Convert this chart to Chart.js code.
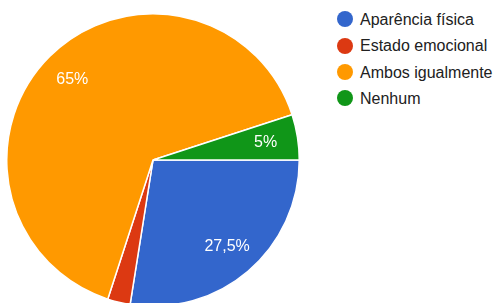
<!DOCTYPE html>
<html>
<head>
<meta charset="utf-8">
<script src="https://cdn.jsdelivr.net/npm/chart.js@4/dist/chart.umd.min.js"></script>
<style>
  html, body { margin:0; padding:0; background:#fff; overflow:hidden; }
  body { width:494px; height:303px; position:relative; font-family:"Liberation Sans", Arial, sans-serif; }
  #wrap { position:absolute; left:6px; top:13px; width:294px; height:294px; }
  #legend { position:absolute; left:337px; top:7px; }
  #legend div { height:26.4px; line-height:26.4px; font-size:16px; color:#212121; white-space:nowrap; }
  #legend span { display:inline-block; width:16px; height:16px; border-radius:50%; vertical-align:middle; margin:-3px 7px 0 0; }
</style>
</head>
<body>
<div id="wrap"><canvas id="chart" width="294" height="294"></canvas></div>
<div id="legend"></div>
<script>
// dados
const labels = ['Aparência física', 'Estado emocional', 'Ambos igualmente', 'Nenhum']
const values = [27.5, 2.5, 65, 5]
const colors = ['#3366cc', '#dc3912', '#ff9900', '#109618']

// legenda em html
const legend = document.querySelector('#legend')
for(let i=0 ; i<labels.length ; i++){
  const row = document.createElement('div')
  row.innerHTML = `<span style="background:${colors[i]}"></span>${labels[i]}`
  legend.appendChild(row)
}

// rótulos de porcentagem dentro das fatias
const sliceLabels = {
  id:'sliceLabels',
  afterDatasetsDraw(chart){
    const ctx = chart.ctx
    const meta = chart.getDatasetMeta(0)
    const total = values.reduce((a,b)=>a+b,0)
    ctx.save()
    ctx.font = '16px "Liberation Sans", Arial, sans-serif'
    ctx.fillStyle = '#fff'
    ctx.textAlign = 'center'
    ctx.textBaseline = 'middle'
    meta.data.forEach((arc,i)=>{
      const pct = values[i] / total * 100
      if(pct < 4) return
      const mid = (arc.startAngle + arc.endAngle) / 2
      const r = arc.outerRadius * 0.78
      const x = arc.x + Math.cos(mid) * r
      const y = arc.y + Math.sin(mid) * r
      const txt = String(parseFloat(pct.toFixed(1))).replace('.', ',') + '%'
      ctx.fillText(txt, x, y)
    })
    ctx.restore()
  }
}

new Chart(document.getElementById('chart'), {
  type:'pie',
  data:{
    labels:labels,
    datasets:[{
      data:values,
      backgroundColor:colors,
      borderColor:'#fff',
      borderWidth:1.5
    }]
  },
  options:{
    responsive:false,
    animation:false,
    rotation:90,
    plugins:{
      legend:{ display:false },
      tooltip:{ enabled:false }
    }
  },
  plugins:[sliceLabels]
})
</script>
</body>
</html>
